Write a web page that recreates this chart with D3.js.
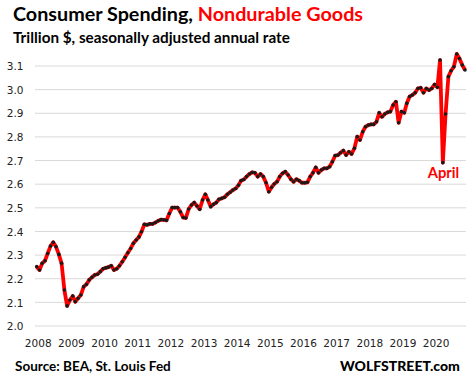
<!DOCTYPE html>
<html><head><meta charset="utf-8">
<script src="https://cdn.jsdelivr.net/npm/d3@7"></script>
<style>html,body{margin:0;padding:0;background:#fff;}</style>
</head><body>
<svg id="c" width="473" height="385"></svg>
<script>
const startYear = 2008;
const values2008 = [2.251,2.237,2.265,2.276,2.307,2.338,2.354,2.335,2.303,2.265,2.152,2.085];
const values2009 = [2.110,2.127,2.103,2.117,2.131,2.166,2.176,2.195,2.206,2.216,2.219,2.230];
const values2010 = [2.242,2.246,2.249,2.255,2.237,2.242,2.255,2.272,2.291,2.310,2.328,2.350];
const values2011 = [2.364,2.377,2.399,2.430,2.428,2.432,2.432,2.438,2.445,2.450,2.449,2.447];
const values2012 = [2.476,2.501,2.501,2.501,2.483,2.459,2.457,2.495,2.512,2.522,2.508,2.494];
const values2013 = [2.533,2.557,2.533,2.505,2.515,2.522,2.536,2.540,2.545,2.557,2.566,2.575];
const values2014 = [2.582,2.596,2.615,2.620,2.632,2.643,2.650,2.648,2.632,2.643,2.632,2.606];
const values2015 = [2.568,2.587,2.601,2.610,2.632,2.646,2.653,2.639,2.621,2.610,2.621,2.615];
const values2016 = [2.606,2.606,2.608,2.632,2.648,2.671,2.648,2.660,2.667,2.667,2.674,2.695];
const values2017 = [2.721,2.723,2.733,2.742,2.723,2.737,2.728,2.752,2.801,2.787,2.822,2.843];
const values2018 = [2.850,2.853,2.853,2.864,2.902,2.885,2.897,2.904,2.907,2.935,2.949,2.860];
const values2019 = [2.907,2.902,2.942,2.971,2.977,2.987,3.005,3.008,2.987,3.005,2.998,3.005];
const values2020 = [3.022,3.010,3.125,2.691,2.897,3.055,3.080,3.097,3.151,3.132,3.104,3.083];
const yTicks = [2.0,2.1,2.2,2.3,2.4,2.5,2.6,2.7,2.8,2.9,3.0,3.1];
const xTickYears = [2008,2009,2010,2011,2012,2013,2014,2015,2016,2017,2018,2019,2020];
const titleBlack = "Consumer Spending, ";
const titleRed = "Nondurable Goods";
const subtitle = "Trillion $, seasonally adjusted annual rate";
const sourceText = "Source: BEA, St. Louis Fed";
const brandText = "WOLFSTREET.com";
const annotationText = "April";

const allYears = [values2008,values2009,values2010,values2011,values2012,values2013,values2014,values2015,values2016,values2017,values2018,values2019,values2020];
const data = [];
allYears.forEach((arr,i)=>arr.forEach((v,m)=>data.push({date:new Date(startYear+i,m,1),value:v})));

const svg = d3.select("#c");
const x = d3.scaleTime().domain([new Date(2008,0,1), new Date(2020,11,1)]).range([36.7,465]);
const y = d3.scaleLinear().domain([2.0,3.1]).range([326,66]);

// gridlines
svg.append("g").selectAll("line").data(yTicks).join("line")
  .attr("x1",35).attr("x2",466)
  .attr("y1",d=>y(d)).attr("y2",d=>y(d))
  .attr("stroke","#d9d9d9").attr("stroke-width",1);

// y axis labels
const yAxis = d3.axisLeft(y).tickValues(yTicks).tickFormat(d3.format(".1f")).tickSize(0).tickPadding(0);
const gy = svg.append("g").attr("transform","translate(23.5,0)").call(yAxis);
gy.select(".domain").remove();
gy.selectAll("text").attr("font-family","DejaVu Sans").attr("font-size","10.5px").attr("fill","#222").attr("dy","0.35em");

// x axis labels
const xAxis = d3.axisBottom(x).tickValues(xTickYears.map(yr=>new Date(yr,0,1))).tickFormat(d3.timeFormat("%Y")).tickSize(0).tickPadding(0);
const gx = svg.append("g").attr("transform","translate(1,340)").call(xAxis);
gx.select(".domain").remove();
gx.selectAll("text").attr("font-family","DejaVu Sans").attr("font-size","10.5px").attr("fill","#222").attr("dy","0.68em");

// line
const line = d3.line().x(d=>x(d.date)).y(d=>y(d.value));
svg.append("path").datum(data).attr("d",line).attr("fill","none")
  .attr("stroke","#ff0000").attr("stroke-width",3.8).attr("stroke-linejoin","round");
svg.append("g").selectAll("circle").data(data).join("circle")
  .attr("cx",d=>x(d.date)).attr("cy",d=>y(d.value)).attr("r",1.8).attr("fill","#1a1a1a");

function fitText(sel, targetWidth){
  const w = sel.node().getComputedTextLength();
  const fs = parseFloat(sel.attr("font-size"));
  sel.attr("font-size", (fs*targetWidth/w).toFixed(2)+"px");
}

const t = svg.append("text").attr("x",13).attr("y",21).attr("font-family","Lato").attr("font-weight","bold").attr("font-size","18px");
t.append("tspan").text(titleBlack).attr("fill","#000");
t.append("tspan").text(titleRed).attr("fill","#ff0000");
fitText(t, 350);

const st = svg.append("text").attr("x",13).attr("y",43).attr("font-family","Lato").attr("font-weight","bold").attr("font-size","14px").attr("fill","#000").text(subtitle);
fitText(st, 277);

const src = svg.append("text").attr("x",15).attr("y",371).attr("font-family","Lato").attr("font-weight","bold").attr("font-size","13px").attr("fill","#000").text(sourceText);
fitText(src, 156);

const br = svg.append("text").attr("x",340).attr("y",371).attr("font-family","Lato").attr("font-weight","900").attr("font-size","13px").attr("fill","#000").text(brandText);
fitText(br, 120);

const ap = svg.append("text").attr("x",427.7).attr("y",178).attr("font-family","Lato").attr("font-weight","bold").attr("font-size","15px").attr("fill","#ff0000").text(annotationText);
fitText(ap, 31.5);
</script>
</body></html>
